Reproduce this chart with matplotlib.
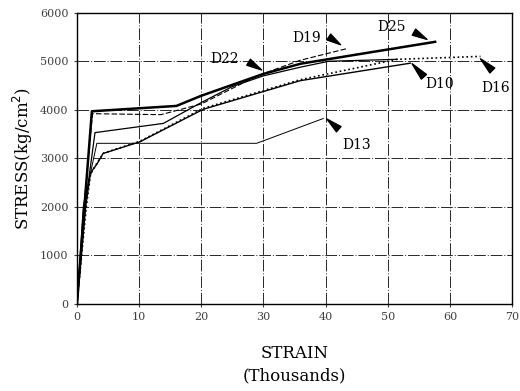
import matplotlib
matplotlib.use('Agg')
import matplotlib.pyplot as plt

plt.rcParams['font.family'] = ['DejaVu Serif']

# strain (thousands) / stress (kg/cm2)
d25_x = [0, 1.2, 2.4, 16, 20, 30, 36, 47, 57.6]
d25_y = [0, 2000, 3970, 4080, 4290, 4740, 4950, 5180, 5400]
d22_x = [0, 1.3, 2.9, 13.9, 20, 25, 30, 36, 40.5, 51.5]
d22_y = [0, 2000, 3530, 3720, 4150, 4480, 4700, 4880, 5000, 5040]
d19_x = [0, 1.1, 2.5, 13.5, 20, 29, 35.9, 43.4]
d19_y = [0, 2000, 3920, 3900, 4120, 4700, 5020, 5260]
d10_x = [0, 1.4, 2.1, 2.4, 3.2, 4.2, 10.1, 20.3, 35.9, 53.6]
d10_y = [0, 2000, 2640, 2740, 2880, 3100, 3340, 4010, 4600, 4960]
d16_x = [0, 1.5, 2.2, 3.3, 4.3, 10.1, 20.3, 35.9, 51.5, 64.9]
d16_y = [0, 2000, 2680, 2920, 3110, 3350, 4030, 4620, 5040, 5100]
d13_x = [0, 1.0, 3.2, 28.9, 39.6]
d13_y = [0, 2000, 3310, 3310, 3820]

labels = ['D19', 'D25', 'D22', 'D10', 'D16', 'D13']
label_xy = [(37.0, 5480), (50.6, 5710), (23.8, 5040), (58.4, 4530), (67.3, 4450), (44.9, 3280)]
arrow_tip = [(42.4, 5340), (56.3, 5450), (29.7, 4820), (53.9, 4950), (64.9, 5050), (40.2, 3810)]
arrow_base = [(40.5, 5500), (54.2, 5600), (27.6, 4980), (55.8, 4680), (66.8, 4810), (42.1, 3600)]

fig = plt.figure(figsize=(5.2, 3.91), dpi=100)
ax = fig.add_axes([0.148, 0.2225, 0.837, 0.745])

ax.plot(d25_x, d25_y, color='black', linewidth=1.8)
ax.plot(d22_x, d22_y, color='black', linewidth=0.9)
ax.plot(d19_x, d19_y, color='black', linewidth=0.8, linestyle=(0, (5, 2)))
ax.plot(d10_x, d10_y, color='black', linewidth=1.0)
ax.plot(d16_x, d16_y, color='black', linewidth=1.2, linestyle=':')
ax.plot(d13_x, d13_y, color='black', linewidth=0.7)

for i in range(len(labels)):
    ax.text(label_xy[i][0], label_xy[i][1], labels[i], fontsize=10, ha='center', va='center')
    ax.annotate('', xy=arrow_tip[i], xytext=arrow_base[i],
                arrowprops=dict(arrowstyle='wedge,tail_width=0.5', color='black', shrinkA=0, shrinkB=0))

ax.set_xlim(0, 70)
ax.set_ylim(0, 6000)
ax.set_xticks(range(0, 71, 10))
ax.set_yticks(range(0, 6001, 1000))
ax.grid(True, color='0.15', linewidth=0.7, linestyle=(0, (12, 2, 1, 2)))
ax.tick_params(direction='inout', length=5, labelsize=8, colors='0.25')
for s in ax.spines.values():
    s.set_linewidth(1.0)

ax.set_xlabel('STRAIN\n(Thousands)', fontsize=12, linespacing=1.45, labelpad=16)
ax.set_ylabel('STRESS(kg/cm$^{2}$)', fontsize=12, labelpad=4)

plt.savefig('out.png', dpi=100)
